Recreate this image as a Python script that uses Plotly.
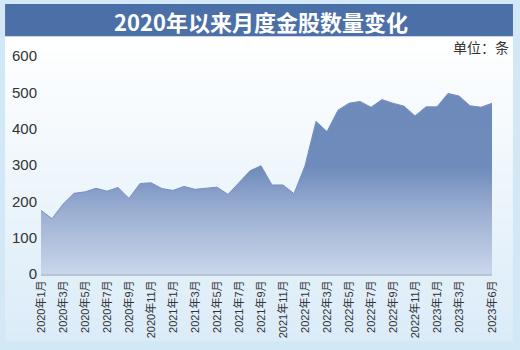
import plotly.graph_objects as go

months = [f"{y}年{m}月" for y in (2020, 2021, 2022, 2023) for m in range(1, 13)][:42]
counts = [175, 152, 192, 222, 226, 236, 228, 238, 208, 249, 251, 235,
          230, 241, 233, 235, 239, 219, 251, 284, 298, 245, 245, 221,
          298, 420, 392, 451, 470, 475, 459, 480, 470, 462, 435, 460,
          460, 497, 490, 463, 459, 470]
tick_labels = months[0:40:2] + [months[41]]
y_ticks = [0, 100, 200, 300, 400, 500, 600]
title_text = "2020年以来月度金股数量变化"
unit_text = "单位：条"

W, H = 520, 350
L, R, T, B = 40, 28, 56, 72
PW, PH = W - L - R, H - T - B


def px(x):
    return (x - L) / PW


def py(y):
    return (H - B - y) / PH


def lerp(c1, c2, t):
    a = [int(c1[i:i + 2], 16) for i in (1, 3, 5)]
    b = [int(c2[i:i + 2], 16) for i in (1, 3, 5)]
    return "#%02x%02x%02x" % tuple(round(a[k] + (b[k] - a[k]) * t) for k in range(3))


shapes = []
# gradient panel
top, bot, n = 36, 346, 40
for i in range(n):
    y0 = top + (bot - top) * i / n
    y1 = top + (bot - top) * (i + 1) / n + 0.6
    shapes.append(dict(type="rect", xref="paper", yref="paper", layer="below",
                       x0=px(4), x1=px(513), y0=py(y1), y1=py(y0),
                       fillcolor=lerp("#ffffff", "#dbecf8", i / (n - 1)),
                       line=dict(width=0)))
# title bar
shapes.append(dict(type="rect", xref="paper", yref="paper", layer="below",
                   x0=px(4), x1=px(513), y0=py(36), y1=py(3),
                   fillcolor="#4b6fa7", line=dict(width=0)))

fig = go.Figure()
fig.add_trace(go.Scatter(
    x=months, y=counts, mode="lines", fill="tozeroy",
    line=dict(color="#7690be", width=1),
    fillgradient=dict(type="vertical", start=0, stop=500,
                      colorscale=[[0, "#ccd8ec"], [0.35, "#9db0d3"],
                                  [0.6, "#6f8bbb"], [1, "#6e8aba"]]),
    hoverinfo="skip", showlegend=False,
))

fig.update_layout(
    width=W, height=H,
    margin=dict(l=L, r=R, t=T, b=B),
    paper_bgcolor="#d3e8f6",
    plot_bgcolor="rgba(0,0,0,0)",
    shapes=shapes,
    font=dict(family="Liberation Sans, Arial, Noto Sans CJK SC", color="#333333"),
    xaxis=dict(type="category", range=[0, len(months) - 1],
               tickmode="array", tickvals=tick_labels, ticktext=tick_labels,
               tickangle=-90, tickfont=dict(size=11, color="#333333",
                                            family="Liberation Sans, Noto Sans CJK SC"),
               showgrid=False, zeroline=False, showline=True,
               linecolor="#b7c4d4", linewidth=2, ticks=""),
    yaxis=dict(range=[0, 600], tickvals=y_ticks, showgrid=False, zeroline=False,
               showline=False, ticks="", ticklabelstandoff=3,
               tickfont=dict(size=15, color="#333333")),
    annotations=[
        dict(text=f"<b>{title_text}</b>", xref="paper", yref="paper",
             x=px(260), y=py(20), showarrow=False, xanchor="center", yanchor="middle",
             font=dict(size=22, color="#ffffff", family="Noto Sans CJK SC")),
        dict(text=unit_text, xref="paper", yref="paper",
             x=px(511), y=py(47), showarrow=False, xanchor="right", yanchor="middle",
             font=dict(size=14, color="#333333", family="Noto Sans CJK SC")),
    ],
)

fig.write_html("out.html")
